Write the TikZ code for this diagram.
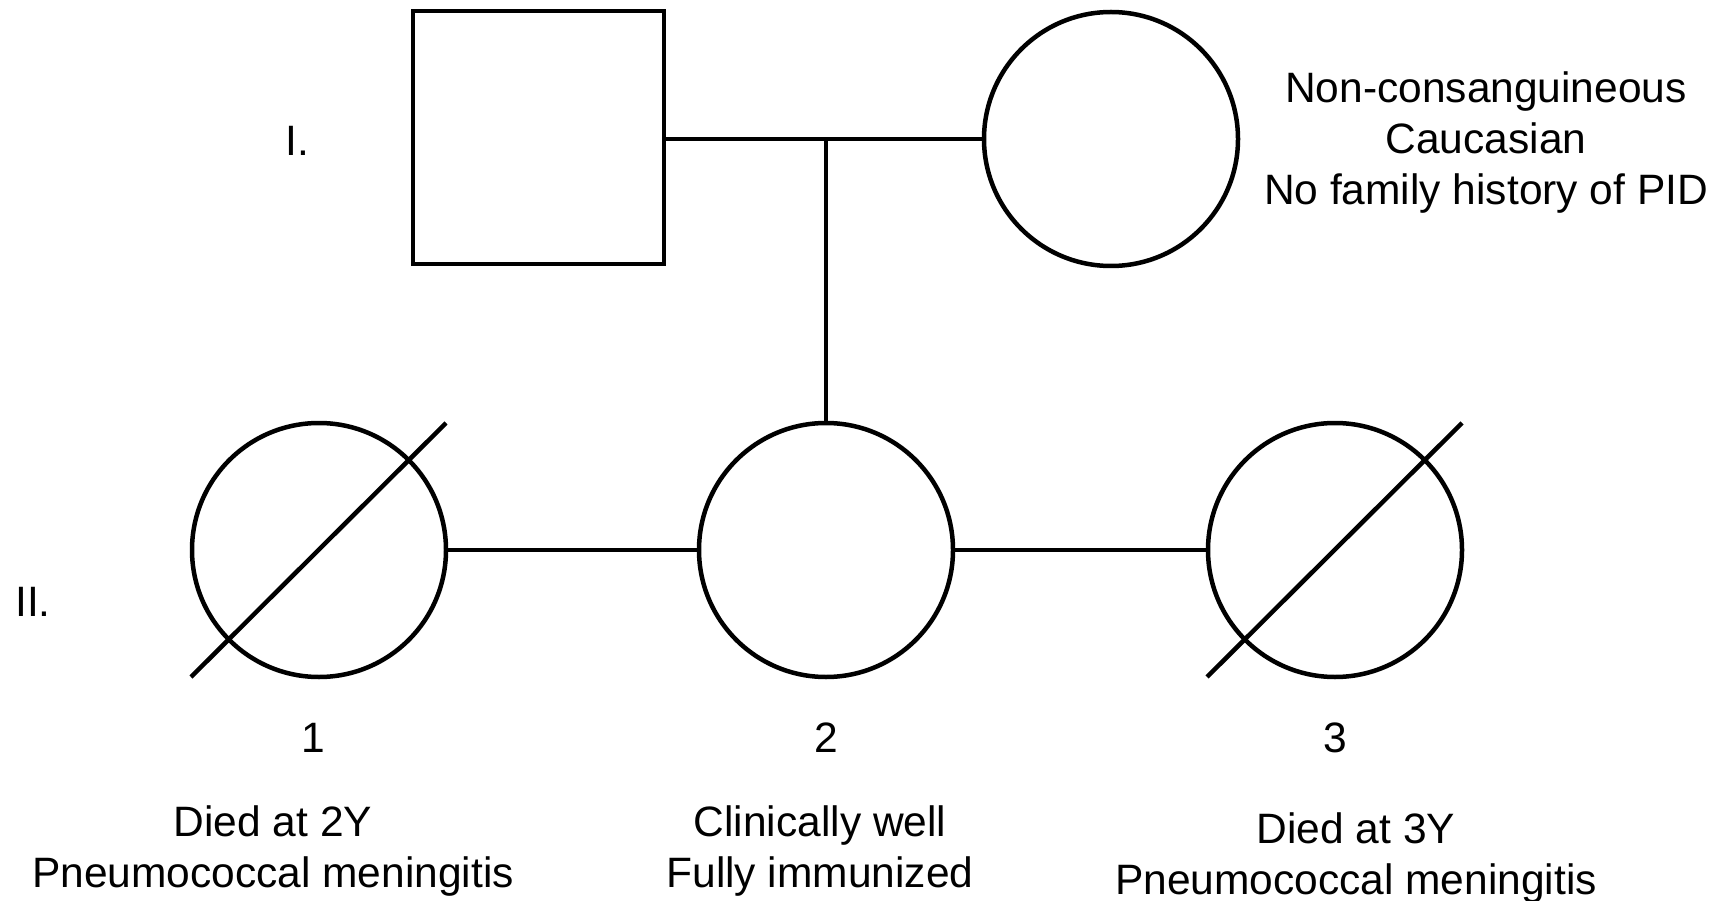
\documentclass[tikz,border=0pt]{standalone}
\usepackage{fontspec}
\setmainfont{Liberation Sans}
\usetikzlibrary{calc}
\tikzset{
  person/.style={draw=black, line width=4.5pt, inner sep=0pt},
  female/.style={person, circle, minimum size=254pt},
  male/.style={person, rectangle, minimum width=251pt, minimum height=253pt},
  link/.style={draw=black, line width=4.5pt},
  lbl/.style={inner sep=0pt, align=center, font=\fontsize{42.5}{51}\selectfont}
}
\begin{document}
\begin{tikzpicture}[x=1pt,y=-1pt]
\useasboundingbox (0,0) rectangle (1727,901);
% generation I
\node[male] (f) at (538.5,137.5) {};
\node[female] (m) at (1111,139) {};
\coordinate (mid) at (826,139);
% generation II
\node[female] (c1) at (319,550) {};
\node[female] (c2) at (826,550) {};
\node[female] (c3) at (1335,550) {};
% connectors
\draw[link] (f.east |- mid) -- (m.west);
\draw[link] (mid) -- (c2.north);
\draw[link] (c1.east) -- (c2.west);
\draw[link] (c2.east) -- (c3.west);
% deceased slashes
\draw[link] ($(c1.center)+(-128,127)$) -- ($(c1.center)+(127,-127)$);
\draw[link] ($(c3.center)+(-128,127)$) -- ($(c3.center)+(127,-127)$);
% labels
\node[lbl] (gI) at (297,141) {I.};
\node[lbl] (gII) at (33,602) {II.};
\node[lbl] (info) at (1486,143) {Non-consanguineous\\Caucasian\\No family history of PID};
\node[lbl] (n1) at (313,738) {1};
\node[lbl] (n2) at (826,738) {2};
\node[lbl] (n3) at (1335,738) {3};
\node[lbl] (d1) at (273,851) {Died at 2Y\\Pneumococcal meningitis};
\node[lbl] (d2) at (820,851) {Clinically well\\Fully immunized};
\node[lbl] (d3) at (1356,858) {Died at 3Y\\Pneumococcal meningitis};
\end{tikzpicture}
\end{document}
